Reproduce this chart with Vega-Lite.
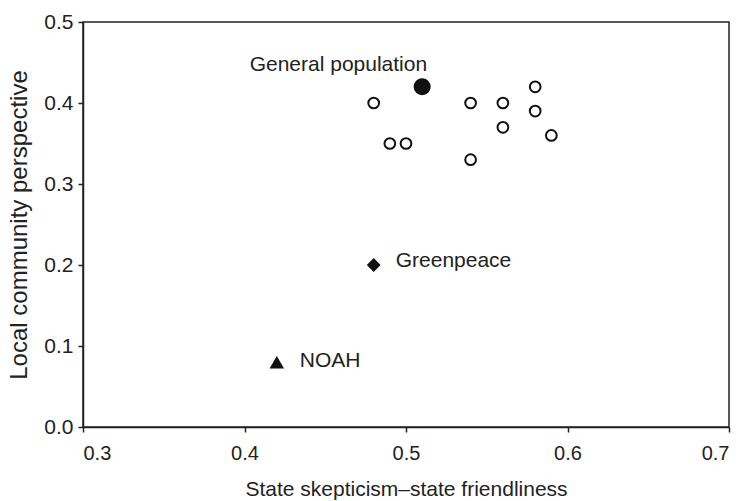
{
  "$schema": "https://vega.github.io/schema/vega-lite/v6.json",
  "autosize": {"type": "none"},
  "width": 646,
  "height": 405,
  "padding": {"left": 83, "top": 22, "right": 16, "bottom": 74},
  "background": "white",
  "config": {
    "font": "Liberation Sans",
    "view": {"stroke": "#222", "strokeWidth": 1.5},
    "axis": {"grid": false, "domainColor": "#222", "tickColor": "#222", "labelColor": "#222", "titleColor": "#222", "labelFont": "Liberation Sans", "titleFont": "Liberation Sans", "titleFontWeight": "normal", "domainWidth": 1.5, "tickWidth": 1.5, "tickSize": 5}
  },
  "data": {"values": [
    {"x": 0.48, "y": 0.40, "group": "other", "label": ""},
    {"x": 0.49, "y": 0.35, "group": "other", "label": ""},
    {"x": 0.50, "y": 0.35, "group": "other", "label": ""},
    {"x": 0.54, "y": 0.40, "group": "other", "label": ""},
    {"x": 0.54, "y": 0.33, "group": "other", "label": ""},
    {"x": 0.56, "y": 0.40, "group": "other", "label": ""},
    {"x": 0.56, "y": 0.37, "group": "other", "label": ""},
    {"x": 0.58, "y": 0.42, "group": "other", "label": ""},
    {"x": 0.58, "y": 0.39, "group": "other", "label": ""},
    {"x": 0.59, "y": 0.36, "group": "other", "label": ""},
    {"x": 0.51, "y": 0.42, "group": "General population", "label": "General population"},
    {"x": 0.48, "y": 0.20, "group": "Greenpeace", "label": "Greenpeace"},
    {"x": 0.42, "y": 0.08, "group": "NOAH", "label": "NOAH"}
  ]},
  "encoding": {
    "x": {"field": "x", "type": "quantitative", "scale": {"domain": [0.3, 0.7], "nice": false, "zero": false},
      "axis": {"values": [0.3, 0.4, 0.5, 0.6, 0.7], "format": ".1f", "title": "State skepticism–state friendliness", "labelFontSize": 20, "titleFontSize": 21, "labelPadding": 11, "titlePadding": 15}},
    "y": {"field": "y", "type": "quantitative", "scale": {"domain": [0, 0.5], "nice": false},
      "axis": {"values": [0, 0.1, 0.2, 0.3, 0.4, 0.5], "format": ".1f", "title": "Local community perspective", "labelFontSize": 21, "titleFontSize": 24, "labelPadding": 5, "titlePadding": 12}}
  },
  "layer": [
    {"transform": [{"filter": "datum.group === 'other'"}],
     "mark": {"type": "point", "shape": "circle", "filled": false, "stroke": "#111", "opacity": 1, "strokeWidth": 2, "size": 115}},
    {"transform": [{"filter": "datum.group === 'General population'"}],
     "mark": {"type": "point", "shape": "circle", "filled": true, "color": "#111", "opacity": 1, "size": 290}},
    {"transform": [{"filter": "datum.group === 'Greenpeace'"}],
     "mark": {"type": "point", "shape": "diamond", "filled": true, "color": "#111", "opacity": 1, "size": 190}},
    {"transform": [{"filter": "datum.group === 'NOAH'"}],
     "mark": {"type": "point", "shape": "triangle-up", "filled": true, "color": "#111", "opacity": 1, "size": 210}},
    {"transform": [{"filter": "datum.group === 'General population'"}],
     "mark": {"type": "text", "align": "right", "baseline": "middle", "dx": 5, "dy": -22, "fontSize": 21, "color": "#222"},
     "encoding": {"text": {"field": "label"}}},
    {"transform": [{"filter": "datum.group === 'Greenpeace'"}],
     "mark": {"type": "text", "align": "left", "baseline": "middle", "dx": 22, "dy": -4, "fontSize": 21, "color": "#222"},
     "encoding": {"text": {"field": "label"}}},
    {"transform": [{"filter": "datum.group === 'NOAH'"}],
     "mark": {"type": "text", "align": "left", "baseline": "middle", "dx": 23, "dy": -1, "fontSize": 21, "color": "#222"},
     "encoding": {"text": {"field": "label"}}}
  ]
}
